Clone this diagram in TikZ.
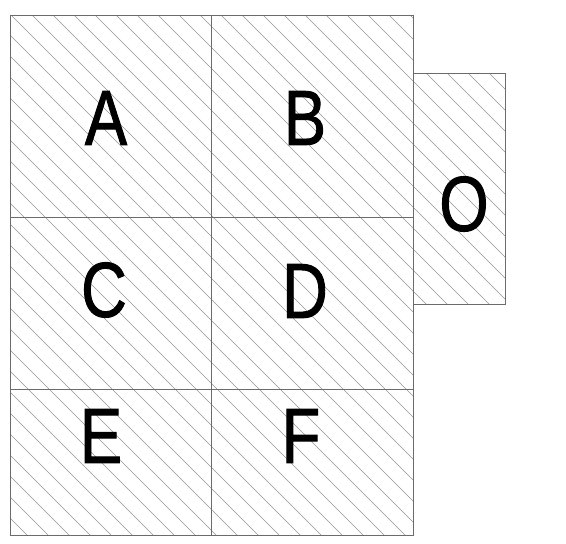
\documentclass[tikz,border=0pt]{standalone}
\usepackage{fontspec}
\newfontfamily\cellfont[FakeStretch=0.81,FakeBold=1.2]{Liberation Sans}

\begin{document}
\begin{tikzpicture}[x=1pt,y=1pt,
    edge/.style={draw=black!58,line width=1pt},
    hatch/.style={draw=black!42,line width=0.65pt},
    cell/.style={font=\cellfont\fontsize{78}{78}\selectfont,inner sep=0pt}]
    \useasboundingbox (0,0) rectangle (566,544);

    \begin{scope}
        \clip (10,8) rectangle (413,528) (413,239) rectangle (505,470);
        \foreach \k in {0,...,50}{
            \pgfmathsetmacro{\cc}{15+21*\k}
            \draw[hatch] (\cc-560,560) -- (\cc+20,-20);
        }
    \end{scope}

    \draw[edge] (10,8) rectangle (413,528);
    \draw[edge] (211,8) -- (211,528);
    \draw[edge] (10,326) -- (413,326);
    \draw[edge] (10,154) -- (413,154);
    \draw[edge] (413,239) rectangle (505,470);

    \node[cell] (a) at (106,426) {A};
    \node[cell] (b) at (305,426) {B};
    \node[cell] (c) at (104,254) {C};
    \node[cell] (d) at (305,253) {D};
    \node[cell] (e) at (101,108) {E};
    \node[cell] (f) at (301,108) {F};
    \node[cell] (o) at (464,340) {O};
\end{tikzpicture}
\end{document}
